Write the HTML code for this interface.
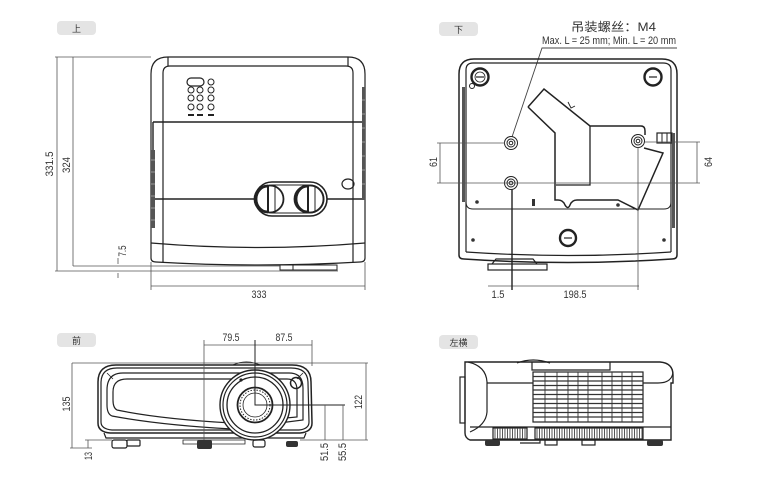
<!DOCTYPE html>
<html><head><meta charset="utf-8"><style>
html,body{margin:0;padding:0;background:#fff;}
svg{display:block;}
text{font-family:"Liberation Sans","Noto Sans CJK SC",sans-serif;fill:#333;}
</style></head><body>
<svg width="774" height="480" viewBox="0 0 774 480" xmlns="http://www.w3.org/2000/svg">
<rect width="774" height="480" fill="#fff"/>

<!-- Pills -->
<rect x="57" y="21" width="39" height="14" rx="4" fill="#e4e4e4"/>
<text x="76.5" y="32" font-size="9" text-anchor="middle">上</text>
<rect x="439" y="22" width="39" height="14" rx="4" fill="#e4e4e4"/>
<text x="458.5" y="33" font-size="9" text-anchor="middle">下</text>
<rect x="57" y="333" width="39" height="14" rx="4" fill="#e4e4e4"/>
<text x="76.5" y="344" font-size="9" text-anchor="middle">前</text>
<rect x="439" y="335" width="39" height="14" rx="4" fill="#e4e4e4"/>
<text x="458.5" y="346" font-size="9" text-anchor="middle">左横</text>

<!-- ================= TOP VIEW ================= -->
<g fill="none" stroke="#222" stroke-width="1.2">
  <path d="M151,74 Q151,57 168,57 L348,57 Q365,57 365,74 L365,258 Q365,262 360,262 Q258,268 156,262 Q151,262 151,258 Z"/>
  <path d="M163,262 L163,73 Q163,66 170,66 L346,66 Q353,66 353,73 L353,262"/>
  <path d="M168,57 L168,66 M348,57 L348,66"/>
  <path d="M151,243 Q258,252 365,243"/>
  <path d="M153,122 L363,122 M153,199 L256,199 M326,199 L363,199 M153,122 L153,199 M363,122 L363,199" stroke-width="1.4"/>
  <rect x="187" y="78" width="17" height="8" rx="4"/>
  <g stroke-width="1">
    <circle cx="211" cy="82" r="3"/>
    <circle cx="191" cy="90" r="3"/><circle cx="200" cy="90" r="3"/><circle cx="211" cy="90" r="3"/>
    <circle cx="191" cy="98" r="3"/><circle cx="200" cy="98" r="3"/><circle cx="211" cy="98" r="3"/>
    <circle cx="191" cy="107" r="3"/><circle cx="200" cy="107" r="3"/><circle cx="211" cy="107" r="3"/>
  </g>
  <path d="M188,115 L194,115 M197,115 L203,115 M208,115 L214,115" stroke-width="2"/>
  <rect x="255" y="182" width="72" height="34" rx="17" fill="#fff" stroke-width="1.6"/>
  <rect x="258" y="185" width="66" height="28" rx="14" stroke-width="0.9"/>
  <circle cx="270" cy="199" r="13.5" fill="#fff" stroke-width="1.8"/>
  <path d="M268,186 A13,13 0 0 0 268,212" stroke-width="2.8"/>
  <path d="M268,186 L268,212" stroke-width="2"/>
  <path d="M275,187 L275,211" stroke-width="1"/>
  <circle cx="310" cy="199" r="13.5" fill="#fff" stroke-width="1.8"/>
  <path d="M308,186 A13,13 0 0 0 308,212" stroke-width="2.8"/>
  <path d="M308,186 L308,212" stroke-width="2"/>
  <path d="M315,187 L315,211" stroke-width="1"/>
  <ellipse cx="348" cy="184" rx="6" ry="5"/>
  <rect x="280" y="265" width="57" height="5" stroke-width="1"/>
  <path d="M293,265 L293,270" stroke-width="1"/>
</g>
<rect x="151" y="150" width="4" height="78" fill="#555"/>
<rect x="362" y="87" width="3" height="113" fill="#555"/>
<g stroke="#ddd" stroke-width="0.6">
  <path d="M151,160 L155,160 M151,172 L155,172 M151,184 L155,184 M151,196 L155,196 M151,208 L155,208 M151,220 L155,220"/>
  <path d="M362,100 L365,100 M362,114 L365,114 M362,128 L365,128 M362,142 L365,142 M362,156 L365,156 M362,170 L365,170 M362,184 L365,184"/>
</g>
<!-- top view dims -->
<g stroke="#555" stroke-width="0.8" fill="none">
  <path d="M55,57 L151,57"/>
  <path d="M57,57 L57,271"/>
  <path d="M73,57 L73,266"/>
  <path d="M73,266 L280,266"/>
  <path d="M55,271 L338,271"/>
  <path d="M118,258 L118,264 M118,273 L118,278"/>
  <path d="M151,262 L151,290 M365,262 L365,290 M151,286 L365,286"/>
</g>
<text transform="translate(53,164) rotate(-90)" font-size="11" text-anchor="middle" textLength="25" lengthAdjust="spacingAndGlyphs">331.5</text>
<text transform="translate(70,165) rotate(-90)" font-size="11" text-anchor="middle" textLength="16" lengthAdjust="spacingAndGlyphs">324</text>
<text transform="translate(126,251) rotate(-90)" font-size="11" text-anchor="middle" textLength="11" lengthAdjust="spacingAndGlyphs">7.5</text>
<text x="259" y="298" font-size="11" text-anchor="middle" textLength="15" lengthAdjust="spacingAndGlyphs">333</text>

<!-- ================= BOTTOM VIEW ================= -->
<text x="571" y="31" font-size="12" textLength="85" lengthAdjust="spacingAndGlyphs">吊装螺丝：M4</text>
<text x="542" y="44" font-size="11" textLength="134" lengthAdjust="spacingAndGlyphs">Max. L = 25 mm; Min. L = 20 mm</text>
<path d="M677,48 L542,48 L512,137" fill="none" stroke="#444" stroke-width="0.9"/>
<g fill="none" stroke="#222" stroke-width="1.2">
  <path d="M459,74 Q459,59 474,59 L662,59 Q677,59 677,74 L677,255 Q677,259 672,259 Q568,266 464,259 Q459,259 459,255 Z" stroke-width="1.5"/>
  <path d="M466,252 L466,70 Q466,63 473,63 L663,63 Q671,63 671,70 L671,252"/>
  <path d="M466,252 Q568,259 671,252"/>
  <path d="M466,202 Q466,209 473,209 L664,209 Q671,209 671,202" stroke-width="1"/>
  <circle cx="480" cy="77" r="8.5" stroke-width="2.4"/>
  <circle cx="480" cy="77" r="5" stroke-width="0.8"/>
  <path d="M476,77 L484,77" stroke-width="1.2"/>
  <circle cx="472" cy="86" r="2.5" stroke-width="1"/>
  <circle cx="653" cy="77" r="8.5" stroke-width="2.4"/>
  <path d="M649,77 L657,77" stroke-width="1.2"/>
  <circle cx="568" cy="238" r="8" stroke-width="2.4"/>
  <path d="M564,238 L572,238" stroke-width="1.2"/>
  <g stroke-width="1">
    <circle cx="511" cy="143" r="6.5"/><circle cx="511" cy="143" r="4"/><circle cx="511" cy="143" r="1.8"/>
    <circle cx="511" cy="183" r="6.5"/><circle cx="511" cy="183" r="4"/><circle cx="511" cy="183" r="1.8"/>
    <circle cx="638" cy="141" r="6.5"/><circle cx="638" cy="141" r="4"/><circle cx="638" cy="141" r="1.8"/>
  </g>
  <path d="M528,107 L544,89 L590,126 L641,126 Q645,126 645,131 L645,135" stroke-width="1.5"/>
  <path d="M644,148 L663,153 L638,210 L618,200 L577,200 Q572,200 570,205 Q568,210 565,205 Q563,200 558,200 L555,200 L555,133 L528,107" stroke-width="1.5"/>
  <path d="M590,126 L590,185 L556,185" stroke-width="1.3"/>
  <path d="M568,102 L571,108 L575,106" stroke-width="0.9"/>
  <rect x="657" y="133" width="15" height="10" stroke-width="1.2"/>
  <path d="M662,133 L662,143 M667,133 L667,143" stroke-width="1"/>
  <path d="M492,264 L496,259 L533,259 L537,264"/>
  <rect x="488" y="264" width="59" height="6"/>
</g>
<rect x="462" y="87" width="3" height="115" fill="#555"/>
<rect x="672" y="133" width="3" height="95" fill="#555"/>
<g fill="#333">
  <circle cx="477" cy="202" r="1.8"/><circle cx="618" cy="205" r="1.8"/>
  <circle cx="473" cy="240" r="1.8"/><circle cx="664" cy="240" r="1.8"/>
  <rect x="532" y="199" width="3" height="7"/>
</g>
<g stroke="#555" stroke-width="0.8" fill="none">
  <path d="M437,143 L505,143"/>
  <path d="M437,183 L700,183"/>
  <path d="M645,142 L700,142"/>
  <path d="M440,143 L440,183"/>
  <path d="M697,142 L697,183"/>
  <path d="M488,286 L639,286"/>
  <path d="M638,147 L638,290"/>
</g>
<path d="M512,189 L512,290" stroke="#222" stroke-width="1.4"/>
<text transform="translate(437,162) rotate(-90)" font-size="11" text-anchor="middle" textLength="10" lengthAdjust="spacingAndGlyphs">61</text>
<text transform="translate(712,162) rotate(-90)" font-size="11" text-anchor="middle" textLength="10" lengthAdjust="spacingAndGlyphs">64</text>
<text x="498" y="298" font-size="11" text-anchor="middle" textLength="13" lengthAdjust="spacingAndGlyphs">1.5</text>
<text x="575" y="298" font-size="11" text-anchor="middle" textLength="23" lengthAdjust="spacingAndGlyphs">198.5</text>

<!-- ================= FRONT VIEW ================= -->
<g fill="none" stroke="#222" stroke-width="1.2">
  <path d="M98,382 Q98,365 116,365 L292,365 Q311,365 311,382 L312,423 Q312,432 300,433 L110,433 Q98,432 98,423 Z" stroke-width="1.5"/>
  <path d="M101,383 Q101,368 117,368 L291,368 Q308,368 308,383 L309,422 Q309,429 299,430 L112,430 Q101,429 101,422 Z"/>
  <path d="M107,390 Q107,373 123,373 L289,373 Q303,373 303,388 L303,420 L232,429 Q160,425 112,416 Q107,414 107,405 Z"/>
  <path d="M113,392 Q113,379 127,379 L287,379 Q297,379 297,390 L297,417 L232,423 Q160,419 117,410 Q113,408 113,400 Z"/>
  <path d="M107,373 L113,379 M303,373 L297,379" stroke-width="0.8"/>
  <path d="M104,433 L106,438 L304,438 L306,433"/>
  <path d="M233,365 Q246,359 260,365" stroke-width="1"/>
  <circle cx="255" cy="405" r="35" fill="#fff" stroke-width="1.4"/>
  <circle cx="255" cy="405" r="32"/>
  <circle cx="255" cy="405" r="28" stroke-width="1.3"/>
  <circle cx="255" cy="405" r="17.5" stroke-width="1.8"/>
  <circle cx="255" cy="405" r="15" stroke-dasharray="1.5 1.5" stroke-width="1"/>
  <circle cx="255" cy="405" r="12" stroke-width="0.8"/>
  <circle cx="296" cy="383" r="5.5" stroke-width="1.5"/>
  <rect x="112" y="440" width="15" height="8" rx="2"/>
  <rect x="127" y="440" width="13" height="6" rx="1"/>
  <rect x="253" y="440" width="12" height="7" rx="2"/>
  <path d="M183,440 L245,440 L245,444 L183,444 Z" stroke-width="0.8"/>
</g>
<circle cx="241" cy="380" r="1.6" fill="#222"/>
<rect x="197" y="440" width="15" height="9" rx="2" fill="#333"/>
<rect x="286" y="441" width="12" height="6" rx="2" fill="#333"/>
<g stroke="#555" stroke-width="0.8" fill="none">
  <path d="M72,363 L368,363"/>
  <path d="M72,363 L72,448 M70,448 L92,448"/>
  <path d="M85,440 L112,440 M300,440 L368,440"/>
  <path d="M88,440 L88,448"/>
  <path d="M366,363 L366,440"/>
  <path d="M204,345 L312,345 M204,340 L204,440 M312,340 L312,366"/>
</g>
<path d="M255,340 L255,405 L345,405" stroke="#222" stroke-width="1" fill="none"/>
<path d="M325,405 L325,440 M343,405 L343,440" stroke="#555" stroke-width="0.8" fill="none"/>
<text x="231" y="341" font-size="11" text-anchor="middle" textLength="17" lengthAdjust="spacingAndGlyphs">79.5</text>
<text x="284" y="341" font-size="11" text-anchor="middle" textLength="17" lengthAdjust="spacingAndGlyphs">87.5</text>
<text transform="translate(70,404) rotate(-90)" font-size="11" text-anchor="middle" textLength="15" lengthAdjust="spacingAndGlyphs">135</text>
<text transform="translate(362,402) rotate(-90)" font-size="11" text-anchor="middle" textLength="14" lengthAdjust="spacingAndGlyphs">122</text>
<text transform="translate(92,456) rotate(-90)" font-size="11" text-anchor="middle" textLength="8" lengthAdjust="spacingAndGlyphs">13</text>
<text transform="translate(328,452) rotate(-90)" font-size="11" text-anchor="middle" textLength="18" lengthAdjust="spacingAndGlyphs">51.5</text>
<text transform="translate(346,452) rotate(-90)" font-size="11" text-anchor="middle" textLength="18" lengthAdjust="spacingAndGlyphs">55.5</text>

<!-- ================= SIDE VIEW ================= -->
<g fill="none" stroke="#222" stroke-width="1.2">
  <path d="M465,362 L660,362 Q673,363 673,375 L673,383 L671,383 L671,440 L470,440 Q465,438 465,433 Z" stroke-width="1.4"/>
  <rect x="460" y="377" width="5" height="46"/>
  <path d="M468,362 Q486,366 487,382 L487,412 Q486,425 470,432"/>
  <path d="M487,383 L658,383 Q672,383 673,372"/>
  <path d="M532,362 L532,370 L610,370 L610,362"/>
  <path d="M517,363 Q533,357 550,363"/>
  <path d="M470,427 L671,427"/>
  <rect x="533" y="372" width="110" height="50" fill="#fff"/>
  <rect x="493" y="428" width="34" height="11"/>
  <rect x="535" y="428" width="108" height="11"/>
  <rect x="545" y="440" width="12" height="5"/>
  <rect x="582" y="440" width="13" height="5"/>
  <path d="M520,440 L540,440 L540,443 L520,443"/>
</g>
<g stroke="#333" stroke-width="1.2">
  <path d="M533,376.5 H643 M533,381 H643 M533,385.5 H643 M533,390 H643 M533,394.5 H643 M533,399 H643 M533,403.5 H643 M533,408 H643 M533,412.5 H643 M533,417 H643"/>
</g>
<g stroke="#333" stroke-width="0.9">
  <path d="M545,372 V422 M557,372 V422 M568,372 V422 M578,372 V422 M588,372 V422 M602,372 V422 M612,372 V422 M622,372 V422 M632,372 V422"/>
</g>
<g stroke="#444" stroke-width="0.9">
  <path d="M495,428 V439 M497.5,428 V439 M500,428 V439 M502.5,428 V439 M505,428 V439 M507.5,428 V439 M510,428 V439 M512.5,428 V439 M515,428 V439 M517.5,428 V439 M520,428 V439 M522.5,428 V439 M525,428 V439"/>
  <path d="M537,428 V439 M539.5,428 V439 M542,428 V439 M544.5,428 V439 M547,428 V439 M549.5,428 V439 M552,428 V439 M554.5,428 V439 M557,428 V439 M559.5,428 V439 M562,428 V439 M564.5,428 V439 M567,428 V439 M569.5,428 V439 M572,428 V439 M574.5,428 V439 M577,428 V439 M579.5,428 V439 M582,428 V439 M584.5,428 V439 M587,428 V439 M589.5,428 V439 M592,428 V439 M594.5,428 V439 M597,428 V439 M599.5,428 V439 M602,428 V439 M604.5,428 V439 M607,428 V439 M609.5,428 V439 M612,428 V439 M614.5,428 V439 M617,428 V439 M619.5,428 V439 M622,428 V439 M624.5,428 V439 M627,428 V439 M629.5,428 V439 M632,428 V439 M634.5,428 V439 M637,428 V439 M639.5,428 V439 M642,428 V439"/>
</g>
<rect x="485" y="440" width="15" height="6" rx="2" fill="#333"/>
<rect x="647" y="440" width="16" height="6" rx="2" fill="#333"/>
</svg>
</body></html>
